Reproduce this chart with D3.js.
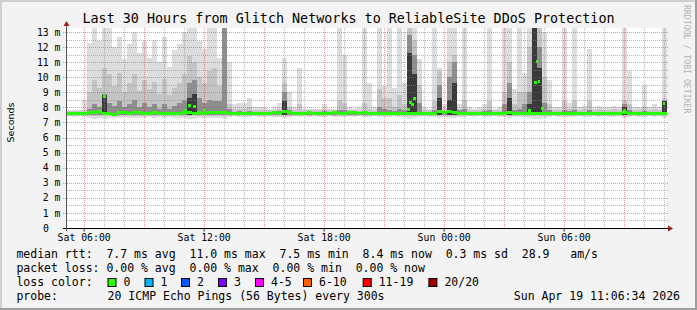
<!DOCTYPE html>
<html>
<head>
<meta charset="utf-8">
<script src="https://cdn.jsdelivr.net/npm/d3@7"></script>
<style>
  body { margin: 0; background: #f3f3f3; }
  text { font-family: "DejaVu Sans Mono", monospace; white-space: pre; }
</style>
</head>
<body>
<svg id="chart"></svg>
<script>
// SmokePing: last 30 hours, 15-minute columns of smoke (ms) + median

const startTime = "2026-04-18T05:10:00Z";
const endTime = "2026-04-19T11:10:00Z";
const stepMinutes = 15;

// top of the lightest smoke (outer pings)
const smokeMax = [
  7.85, 7.8, 7.85, 8.5, 12.3, 13.3, 12.4, 13.3, 13.3, 12.0,
  12.7, 11.2, 12.2, 13.0, 11.6, 12.4, 11.3, 12.5, 11.0, 12.7,
  10.7, 11.8, 12.2, 13.0, 13.3, 13.3, 12.4, 11.9, 13.3, 13.3,
  11.3, 13.3, 11.0, 8.2, 8.3, 8.3, 8.6, 8.0, 8.0, 8.0,
  7.9, 8.0, 8.3, 11.3, 9.0, 8.0, 10.6, 7.9, 7.9, 7.9,
  7.9, 8.2, 7.9, 7.9, 13.3, 11.5, 8.0, 7.9, 8.0, 13.3,
  9.6, 8.0, 13.3, 9.4, 13.3, 9.3, 13.3, 9.6, 13.3, 13.3,
  11.2, 8.0, 7.9, 13.3, 10.6, 8.2, 13.3, 13.3, 8.2, 13.3,
  8.0, 7.9, 8.0, 8.2, 13.3, 7.9, 8.0, 13.3, 13.3, 9.2,
  13.3, 10.3, 13.3, 13.3, 13.3, 13.0, 9.8, 8.0, 8.0, 13.3,
  8.3, 13.3, 8.0, 8.1, 11.9, 8.0, 8.1, 8.0, 8.0, 8.1,
  8.0, 13.3, 10.4, 8.0, 8.0, 9.5, 8.0, 8.2, 8.0, 13.3
];

// bottom of the lightest smoke
const smokeMin = [
  7.4, 7.38, 7.4, 7.35, 7.3, 7.25, 7.3, 7.2, 7.28, 7.32,
  7.3, 7.35, 7.3, 7.28, 7.32, 7.3, 7.34, 7.3, 7.35, 7.3,
  7.34, 7.3, 7.32, 7.28, 7.25, 7.22, 7.3, 7.32, 7.28, 7.3,
  7.3, 7.25, 7.35, 7.4, 7.38, 7.35, 7.38, 7.4, 7.36, 7.38,
  7.4, 7.38, 7.36, 7.3, 7.35, 7.4, 7.38, 7.4, 7.36, 7.4,
  7.38, 7.35, 7.4, 7.38, 7.35, 7.36, 7.4, 7.38, 7.4, 7.35,
  7.36, 7.4, 7.35, 7.38, 7.36, 7.4, 7.35, 7.38, 7.25, 7.3,
  7.35, 7.4, 7.38, 7.36, 7.32, 7.38, 7.3, 7.3, 7.35, 7.38,
  7.4, 7.38, 7.4, 7.36, 7.35, 7.4, 7.38, 7.35, 7.3, 7.36,
  7.35, 7.36, 7.3, 7.2, 7.25, 7.32, 7.36, 7.4, 7.38, 7.35,
  7.36, 7.35, 7.4, 7.38, 7.36, 7.4, 7.38, 7.4, 7.38, 7.36,
  7.4, 7.32, 7.36, 7.4, 7.38, 7.36, 7.4, 7.38, 7.4, 7.3
];

// top of the middle smoke band
const smokeHi = [
  7.75, 7.75, 7.75, 7.8, 9.0, 9.8, 9.3, 10.6, 10.2, 9.4,
  10.3, 9.0, 9.6, 10.2, 9.1, 9.8, 9.2, 9.7, 8.9, 9.9,
  8.8, 9.3, 9.6, 10.2, 11.4, 11.0, 10.0, 9.6, 10.4, 10.6,
  9.4, 13.3, 8.2, 7.9, 7.9, 7.9, 8.0, 7.8, 7.8, 7.8,
  7.8, 7.8, 7.9, 9.6, 8.0, 7.8, 8.2, 7.8, 7.8, 7.8,
  7.8, 7.9, 7.8, 7.8, 8.5, 8.3, 7.8, 7.8, 7.8, 8.3,
  7.9, 7.8, 9.2, 8.6, 8.6, 8.0, 8.8, 8.2, 13.3, 12.5,
  9.5, 7.8, 7.8, 8.4, 10.4, 7.9, 11.0, 11.5, 7.9, 8.5,
  7.8, 7.8, 7.8, 7.9, 8.4, 7.8, 7.8, 9.0, 11.0, 8.2,
  9.0, 9.0, 12.0, 13.3, 13.3, 10.0, 8.2, 7.8, 7.8, 8.4,
  7.9, 8.4, 7.8, 7.9, 8.4, 7.8, 7.9, 7.8, 7.8, 7.9,
  7.8, 8.5, 8.2, 7.8, 7.8, 8.0, 7.8, 7.9, 7.8, 8.6
];

// top of the grey core smoke
const smokeDark = [
  7.68, 7.68, 7.7, 7.7, 7.9, 8.2, 8.0, 8.9, 8.3, 8.1,
  8.4, 8.0, 8.2, 8.5, 8.0, 8.3, 8.0, 8.2, 7.9, 8.2,
  7.9, 8.1, 8.3, 8.5, 9.6, 9.8, 8.6, 8.3, 8.5, 8.4,
  8.4, 13.3, 7.9, 7.7, 7.75, 7.7, 7.75, 7.7, 7.7, 7.7,
  7.7, 7.7, 7.75, 9.0, 7.8, 7.7, 7.7, 7.7, 7.7, 7.7,
  7.7, 7.75, 7.7, 7.7, 7.8, 7.8, 7.7, 7.7, 7.7, 7.75,
  7.7, 7.7, 8.0, 7.9, 7.8, 7.75, 7.9, 7.8, 12.8, 11.5,
  8.3, 7.7, 7.7, 7.8, 9.5, 7.75, 10.0, 11.0, 7.8, 7.9,
  7.7, 7.7, 7.7, 7.75, 7.8, 7.7, 7.7, 8.2, 9.6, 7.8,
  7.9, 8.2, 9.0, 13.3, 12.0, 8.3, 7.8, 7.7, 7.7, 7.8,
  7.75, 7.8, 7.7, 7.7, 7.8, 7.7, 7.7, 7.7, 7.7, 7.7,
  7.7, 8.2, 7.8, 7.7, 7.7, 7.75, 7.7, 7.7, 7.7, 8.3
];

// top of the blackest smoke (only where most pings were slow)
const smokeCore = [
  0, 0, 0, 0, 0, 0, 0, 8.8, 0, 0,
  0, 0, 0, 0, 0, 0, 0, 0, 0, 0,
  0, 0, 0, 0, 8.6, 8.9, 0, 0, 0, 0,
  0, 0, 0, 0, 0, 0, 0, 0, 0, 0,
  0, 0, 0, 8.4, 0, 0, 0, 0, 0, 0,
  0, 0, 0, 0, 0, 0, 0, 0, 0, 0,
  0, 0, 0, 0, 0, 0, 0, 0, 11.6, 10.2,
  0, 0, 0, 0, 8.6, 0, 8.5, 9.6, 0, 0,
  0, 0, 0, 0, 0, 0, 0, 0, 8.6, 0,
  0, 0, 8.2, 13.3, 10.6, 0, 0, 0, 0, 0,
  0, 0, 0, 0, 0, 0, 0, 0, 0, 0,
  0, 8.0, 0, 0, 0, 0, 0, 0, 0, 8.4
];
const innerLow = 7.48;

// median rtt per column
const medianRtt = [
  7.62, 7.6, 7.62, 7.6, 7.63, 7.66, 7.7, 7.62, 7.6, 7.56,
  7.66, 7.65, 7.6, 7.67, 7.64, 7.6, 7.62, 7.66, 7.62, 7.6,
  7.58, 7.6, 7.62, 7.64, 7.66, 7.62, 7.65, 7.6, 7.64, 7.66,
  7.66, 7.65, 7.62, 7.6, 7.58, 7.6, 7.62, 7.58, 7.6, 7.62,
  7.62, 7.64, 7.6, 7.7, 7.64, 7.6, 7.62, 7.62, 7.64, 7.6,
  7.62, 7.6, 7.62, 7.64, 7.6, 7.62, 7.66, 7.66, 7.62, 7.64,
  7.6, 7.62, 7.6, 7.62, 7.6, 7.58, 7.6, 7.62, 7.62, 7.6,
  7.62, 7.6, 7.62, 7.6, 7.7, 7.68, 7.7, 7.66, 7.58, 7.6,
  7.6, 7.62, 7.6, 7.6, 7.58, 7.6, 7.6, 7.62, 7.64, 7.62,
  7.6, 7.58, 7.62, 7.6, 7.62, 7.6, 7.58, 7.6, 7.58, 7.6,
  7.6, 7.58, 7.6, 7.6, 7.6, 7.58, 7.6, 7.6, 7.6, 7.62,
  7.6, 7.66, 7.62, 7.6, 7.6, 7.62, 7.58, 7.6, 7.62, 7.62
];

// single 5-minute median readings that stand out
const spikeTimes = [
  "2026-04-18T07:01Z", "2026-04-18T11:04Z", "2026-04-18T11:16Z", "2026-04-18T11:32Z",
  "2026-04-18T12:01Z", "2026-04-18T22:14Z", "2026-04-18T22:20Z", "2026-04-18T22:25Z",
  "2026-04-18T22:31Z", "2026-04-19T04:16Z", "2026-04-19T04:34Z", "2026-04-19T04:39Z",
  "2026-04-19T04:45Z", "2026-04-19T04:55Z", "2026-04-19T09:01Z", "2026-04-19T11:00Z"
];
const spikeValues = [8.73, 7.8, 8.1, 8.07, 7.8, 7.85, 8.3, 8.18, 8.58, 7.8, 9.68, 11.05, 9.7, 7.95, 7.8, 8.27];

const yTickValues = [0, 1, 2, 3, 4, 5, 6, 7, 8, 9, 10, 11, 12, 13];
const yMax = 13.265;

const lossLabels = ["0", "1", "2", "3", "4-5", "6-10", "11-19", "20/20"];
const lossColors = ["#26ff00", "#00b8ff", "#0059ff", "#7e00ff", "#ff00ff", "#ff5e00", "#ff0000", "#a10000"];
const lossLabelX = [123.5, 160.5, 197, 234, 271, 319, 378.7, 444.4];

const legendLines = [
  "median rtt:  7.7 ms avg  11.0 ms max  7.5 ms min  8.4 ms now  0.3 ms sd  28.9   am/s",
  "packet loss: 0.00 % avg  0.00 % max  0.00 % min  0.00 % now"
];

const svgWidth = 697;
const svgHeight = 310;
const plot = { left: 67, right: 667, top: 28, bottom: 228 };

const svg = d3.select("#chart")
    .attr("width", svgWidth)
    .attr("height", svgHeight);

// background and 3d frame
svg.append("rect").attr("width", svgWidth).attr("height", svgHeight).attr("fill", "#f3f3f3");
svg.append("rect").attr("x", 0).attr("y", 0).attr("width", svgWidth).attr("height", 2).attr("fill", "#cfcfcf");
svg.append("rect").attr("x", 0).attr("y", 0).attr("width", 2).attr("height", svgHeight).attr("fill", "#cfcfcf");
svg.append("rect").attr("x", svgWidth - 2).attr("y", 0).attr("width", 2).attr("height", svgHeight).attr("fill", "#9e9e9e");
svg.append("rect").attr("x", 0).attr("y", svgHeight - 2).attr("width", svgWidth).attr("height", 2).attr("fill", "#9e9e9e");

const t0 = new Date(startTime);
const xScale = d3.scaleUtc().domain([t0, new Date(endTime)]).range([plot.left, plot.right]);
const yScale = d3.scaleLinear().domain([0, yMax]).range([plot.bottom, plot.top]);
const yc = v => yScale(Math.min(v, yMax));

svg.append("rect")
    .attr("x", plot.left).attr("y", plot.top)
    .attr("width", plot.right - plot.left).attr("height", plot.bottom - plot.top)
    .attr("fill", "#ffffff");

// smoke
const colTime = i => d3.utcMinute.offset(t0, stepMinutes * i);
const colW = xScale(colTime(1)) - xScale(colTime(0));

const bands = [
    { top: smokeMax, low: i => smokeMin[i], color: "#dddddd" },
    { top: smokeHi, low: () => innerLow, color: "#c4c4c4" },
    { top: smokeDark, low: () => innerLow, color: "#8e8e8e" },
    { top: smokeCore, low: () => innerLow, color: "#3a3a3a" }
];

const smoke = svg.append("g").attr("shape-rendering", "crispEdges");
bands.forEach(b => {
    smoke.append("g").selectAll("rect")
        .data(b.top)
        .join("rect")
        .attr("x", (d, i) => xScale(colTime(i)))
        .attr("width", colW + 0.3)
        .attr("y", d => yc(d))
        .attr("height", (d, i) => d > 0 ? Math.max(0, yc(b.low(i)) - yc(d)) : 0)
        .attr("fill", b.color);
});

// grid (dotted, drawn over the smoke like rrdtool)
const grid = svg.append("g").attr("stroke-dasharray", "1,1").attr("stroke-width", 1);
const minorY = d3.range(0.5, yMax, 1);
const hours = d3.utcHour.range(t0, new Date(endTime));
const minorColor = "rgba(140,140,140,0.6)";
const majorColor = "rgba(225,60,60,0.55)";
grid.selectAll(".hminor")
    .data(minorY)
    .join("line")
    .attr("x1", plot.left).attr("x2", plot.right + 2)
    .attr("y1", d => Math.round(yScale(d)) + 0.5).attr("y2", d => Math.round(yScale(d)) + 0.5)
    .attr("stroke", minorColor);
grid.selectAll(".vminor")
    .data(hours.filter(h => h.getUTCHours() % 3 !== 0))
    .join("line")
    .attr("x1", d => Math.round(xScale(d)) + 0.5).attr("x2", d => Math.round(xScale(d)) + 0.5)
    .attr("y1", plot.top).attr("y2", plot.bottom)
    .attr("stroke", minorColor);
grid.selectAll(".hmajor")
    .data(yTickValues.slice(1))
    .join("line")
    .attr("x1", plot.left - 4).attr("x2", plot.right + 2)
    .attr("y1", d => Math.round(yScale(d)) + 0.5).attr("y2", d => Math.round(yScale(d)) + 0.5)
    .attr("stroke", majorColor);
grid.selectAll(".vmajor")
    .data(hours.filter(h => h.getUTCHours() % 3 === 0))
    .join("line")
    .attr("x1", d => Math.round(xScale(d)) + 0.5).attr("x2", d => Math.round(xScale(d)) + 0.5)
    .attr("y1", plot.top).attr("y2", plot.bottom + 2)
    .attr("stroke", majorColor);

// median
const med = svg.append("g").attr("fill", lossColors[0]).attr("shape-rendering", "crispEdges");
med.selectAll(".mbase")
    .data(medianRtt)
    .join("rect")
    .attr("x", (d, i) => xScale(colTime(i)))
    .attr("width", colW + 0.3)
    .attr("y", d => yScale(d) - 1.5)
    .attr("height", 3);
med.selectAll(".mspike")
    .data(spikeValues)
    .join("rect")
    .attr("x", (d, i) => xScale(new Date(spikeTimes[i])) - 1)
    .attr("width", 2.5)
    .attr("y", d => yScale(d) - 1.5)
    .attr("height", 3);

// axes
const xAxis = d3.axisBottom(xScale)
    .ticks(d3.utcHour.every(6))
    .tickFormat(d3.utcFormat("%a %H:%M"))
    .tickSize(3)
    .tickPadding(3);
const gx = svg.append("g")
    .attr("transform", `translate(0, ${plot.bottom + 0.5})`)
    .call(xAxis);
gx.select(".domain").remove();
gx.selectAll("line").attr("stroke", "#333");
gx.selectAll("text").attr("font-family", "DejaVu Sans Mono").attr("font-size", 9.8).attr("fill", "#000");

const yAxis = d3.axisLeft(yScale)
    .tickValues(yTickValues)
    .tickFormat(d => d === 0 ? "0" : `${d} m`)
    .tickSize(0)
    .tickPadding(6);
const gy = svg.append("g")
    .attr("transform", `translate(${plot.left - 0.5}, 0)`)
    .call(yAxis);
gy.select(".domain").remove();
gy.selectAll("text").attr("font-family", "DejaVu Sans Mono").attr("font-size", 9.8).attr("fill", "#000")
    .attr("dx", d => d === 0 ? -11.7 : 0);

// axis lines and arrows
svg.append("line").attr("x1", plot.left - 4).attr("x2", plot.right + 2)
    .attr("y1", plot.bottom + 0.5).attr("y2", plot.bottom + 0.5).attr("stroke", "#000");
svg.append("line").attr("x1", plot.left - 0.5).attr("x2", plot.left - 0.5)
    .attr("y1", plot.bottom + 3).attr("y2", plot.top - 3).attr("stroke", "#555");
svg.append("path").attr("d", `M${plot.right + 1},${plot.bottom - 2.5}L${plot.right + 6},${plot.bottom + 0.5}L${plot.right + 1},${plot.bottom + 3.5}Z`)
    .attr("fill", "#9b1c1c");
svg.append("path").attr("d", `M${plot.left - 3.5},${plot.top - 2}L${plot.left - 0.5},${plot.top - 7}L${plot.left + 2.5},${plot.top - 2}Z`)
    .attr("fill", "#9b1c1c");

// title, unit label, watermark
svg.append("text")
    .attr("x", svgWidth / 2).attr("y", 23)
    .attr("text-anchor", "middle").attr("font-size", 13.4)
    .text("Last 30 Hours from Glitch Networks to ReliableSite DDoS Protection");

svg.append("text")
    .attr("transform", "translate(13.5, 122.5) rotate(-90)")
    .attr("text-anchor", "middle")
    .attr("font-size", 9.5)
    .style("font-family", "DejaVu Sans")
    .text("Seconds");

svg.append("text")
    .attr("transform", "translate(683.5, 5) rotate(90)")
    .attr("font-size", 8.2).attr("fill", "#b4b4b4")
    .text("RRDTOOL / TOBI OETIKER");

// legend
const legend = svg.append("g").attr("font-size", 11.5).attr("fill", "#000");
const lineY = [258, 272, 286, 300];
legend.selectAll(".lline").data(legendLines).join("text")
    .attr("x", 16.4).attr("y", (d, i) => lineY[i]).text(d => d);
legend.append("text").attr("x", 16.4).attr("y", lineY[2]).text("loss color:");
legend.selectAll(".lbox").data(lossColors).join("rect")
    .attr("x", (d, i) => lossLabelX[i] - 15.5).attr("y", 278.5)
    .attr("width", 8).attr("height", 8)
    .attr("fill", d => d).attr("stroke", "#000").attr("stroke-width", 1);
legend.selectAll(".ltext").data(lossLabels).join("text")
    .attr("x", (d, i) => lossLabelX[i]).attr("y", lineY[2]).text(d => d);
legend.append("text").attr("x", 16.4).attr("y", lineY[3]).text("probe:");
legend.append("text").attr("x", 107.6).attr("y", lineY[3]).text("20 ICMP Echo Pings (56 Bytes) every 300s");
legend.append("text").attr("x", 680).attr("y", lineY[3]).attr("text-anchor", "end").text("Sun Apr 19 11:06:34 2026");
</script>
</body>
</html>
